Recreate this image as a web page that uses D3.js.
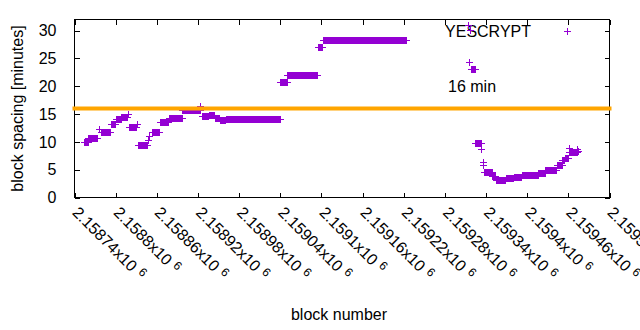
<!DOCTYPE html>
<html><head><meta charset="utf-8">
<script src="https://cdn.jsdelivr.net/npm/d3@7"></script>
<style>
body{margin:0;background:#fff}
svg{display:block}
text{font-family:"Liberation Sans",Arial,sans-serif;font-size:16px;fill:#000}
</style>
</head><body>
<svg id="chart" width="640" height="330"></svg>
<script>
// ---- data ----
// runs of consecutive blocks sharing the same spacing value (single blocks have from == to)
const runFrom  = [2158755,2158761,2158776,2158779,2158794,2158801,2158809,2158819,2158820,2158832,2158834,2158848,2158850,2158853,2158865,2158878,2158898,2158924,2158926,2158937,2158945,2158953,2158961,2159041,2159051,2159096,2159103,2159315,2159316,2159317,2159319,2159325,2159334,2159336,2159337,2159338,2159350,2159355,2159370,2159381,2159393,2159408,2159417,2159427,2159444,2159452,2159456,2159461,2159462,2159474,2159475];
const runTo    = [2158760,2158773,2158776,2158793,2158800,2158808,2158817,2158819,2158830,2158832,2158847,2158848,2158850,2158864,2158877,2158897,2158923,2158924,2158936,2158944,2158952,2158960,2159040,2159050,2159095,2159102,2159224,2159315,2159316,2159317,2159324,2159333,2159334,2159336,2159337,2159349,2159354,2159369,2159380,2159392,2159407,2159416,2159426,2159443,2159451,2159455,2159460,2159461,2159473,2159474,2159475];
const runValue = [9.8,10.55,12.3,11.75,13.2,14.0,14.4,14.9,12.5,13.1,9.35,10.3,10.9,11.75,13.5,14.15,15.6,16.3,14.55,14.8,14.2,13.8,14.0,20.7,21.9,27.0,28.3,31.0,24.3,30.0,23.05,9.65,8.6,6.35,5.75,4.55,3.75,3.0,3.35,3.55,3.95,3.9,4.25,4.85,5.75,6.65,6.95,8.8,8.1,8.7,8.3];

const xDomain = [2158740, 2159520];
const yDomain = [0, 32];
const xTicks = [2158740,2158800,2158860,2158920,2158980,2159040,2159100,2159160,2159220,2159280,2159340,2159400,2159460,2159520];
const xTickMantissa = ["2.15874","2.1588","2.15886","2.15892","2.15898","2.15904","2.1591","2.15916","2.15922","2.15928","2.15934","2.1594","2.15946","2.15952"];
const xTickExponent = "6";
const yTicks = [0,5,10,15,20,25,30];
const targetSpacing = [16];
const seriesName = "YESCRYPT";
const targetLabel = "16 min";
const xTitle = "block number";
const yTitle = "block spacing [minutes]";

// ---- build point list ----
const points = [];
runFrom.forEach((f, i) => { for (let b = f; b <= runTo[i]; b++) points.push({block: b, value: runValue[i]}); });

const svg = d3.select("#chart");
const L = 74.5, R = 609.5, T = 19.5, B = 197.5;
const x = d3.scaleLinear().domain(xDomain).range([L, R]);
const y = d3.scaleLinear().domain(yDomain).range([B, T]);
const purple = "#9400d3", orange = "#ffa500";

svg.append("defs").append("clipPath").attr("id","plotclip")
  .append("rect").attr("x", L).attr("y", T).attr("width", R-L).attr("height", B-T);

// axes (ticks inward, mirrored)
const tick = 5;
const gx = svg.append("g").attr("transform", `translate(0,${B})`)
  .call(d3.axisBottom(x).tickValues(xTicks).tickSize(-tick).tickFormat(""));
const gxt = svg.append("g").attr("transform", `translate(0,${T})`)
  .call(d3.axisTop(x).tickValues(xTicks).tickSize(-tick).tickFormat(""));
const gy = svg.append("g").attr("transform", `translate(${L},0)`)
  .call(d3.axisLeft(y).tickValues(yTicks).tickSize(-tick).tickPadding(18));
const gyr = svg.append("g").attr("transform", `translate(${R},0)`)
  .call(d3.axisRight(y).tickValues(yTicks).tickSize(-tick).tickFormat(""));
[gx, gxt, gy, gyr].forEach(g => {
  g.select(".domain").remove();
  g.selectAll("line").attr("stroke", "#000").attr("shape-rendering", "crispEdges");
});
gy.selectAll("text").attr("font-size", 16).attr("font-family", null).style("font-family", '"Liberation Sans",Arial,sans-serif');

svg.append("rect").attr("x", L).attr("y", T).attr("width", R-L).attr("height", B-T)
  .attr("fill", "none").attr("stroke", "#000").attr("shape-rendering", "crispEdges");

// rotated x tick labels
const xl = svg.append("g").selectAll("text").data(xTicks).join("text")
  .attr("transform", d => `translate(${x(d) - 3},${B + 16}) rotate(45)`)
  .attr("text-anchor", "start");
xl.append("tspan").text((d, i) => xTickMantissa[i] + "x10");
xl.append("tspan").attr("dx", 5).attr("dy", -5).attr("font-size", 12).text(xTickExponent);

// titles
svg.append("text").attr("x", 339).attr("y", 320).attr("text-anchor", "middle").text(xTitle);
svg.append("text").attr("transform", `translate(23,${(T+B)/2}) rotate(-90)`).attr("text-anchor", "middle").text(yTitle);

// key
svg.append("text").attr("x", 531).attr("y", 37).attr("text-anchor", "end").text(seriesName);
const cross = "M-3.5,0H3.5M0,-3.5V3.5";
svg.append("path").attr("d", cross).attr("transform", "translate(567,31.5)")
  .attr("stroke", purple).attr("fill", "none").attr("shape-rendering", "crispEdges");
svg.append("text").attr("x", 448).attr("y", 92).text(targetLabel);

// points
svg.append("g").attr("clip-path", "url(#plotclip)").attr("shape-rendering", "crispEdges")
  .selectAll("path").data(points).join("path")
  .attr("d", cross)
  .attr("transform", d => `translate(${x(d.block)},${y(d.value)})`)
  .attr("stroke", purple).attr("stroke-width", 1).attr("fill", "none");

// 16 minute reference line
svg.append("g").selectAll("line").data(targetSpacing).join("line")
  .attr("x1", x(xDomain[0])).attr("x2", x(xDomain[1]))
  .attr("y1", d => y(d)).attr("y2", d => y(d))
  .attr("stroke", orange).attr("stroke-width", 4).attr("stroke-linecap", "square");
</script>
</body></html>
